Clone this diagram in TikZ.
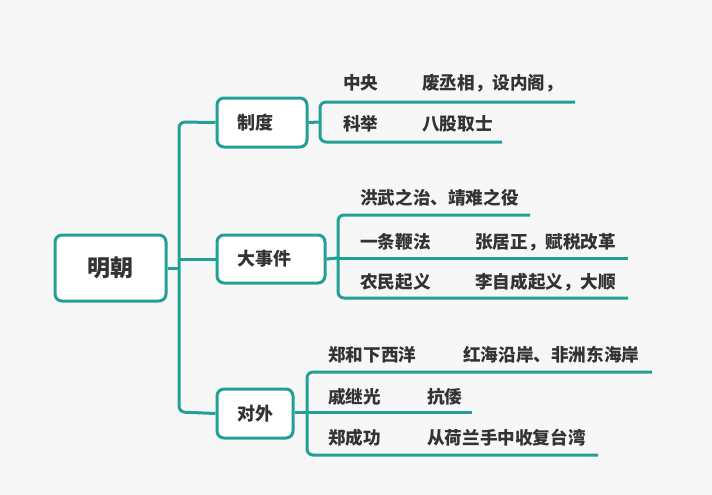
\documentclass[tikz,border=0pt]{standalone}
\usepackage{fontspec}
\setmainfont{Noto Sans CJK SC}
\definecolor{teal1}{HTML}{23A096}
\definecolor{bg}{HTML}{F7F7F7}
\definecolor{txt}{HTML}{333333}
\begin{document}
\begin{tikzpicture}[x=1pt,y=-1pt,
  line/.style={draw=teal1,line width=3pt,rounded corners=6pt},
  box/.style={draw=teal1,line width=3pt,fill=white,rounded corners=7pt,inner xsep=20pt,inner ysep=0pt,align=left,text=txt,font=\bfseries\fontsize{18}{18}\selectfont},
  item/.style={anchor=west,inner sep=0pt,text=txt,font=\bfseries\fontsize{17.6}{18}\selectfont}]
\fill[bg] (0,0) rectangle (712,495);
\useasboundingbox (0,0) rectangle (712,495);
% coordinates
\coordinate (tt) at (179,122);
\coordinate (tm) at (179,259);
\coordinate (tr) at (179,268);
\coordinate (tb) at (179,412);
% zhidu bracket
\coordinate (za) at (320,102); \coordinate (zb) at (320,142); \coordinate (zm) at (320,122);
\coordinate (zae) at (575,102); \coordinate (zbe) at (502,142);
% dashijian bracket
\coordinate (da) at (338,215); \coordinate (db) at (338,298); \coordinate (dm) at (338,258);
\coordinate (dae) at (530,215); \coordinate (dme) at (628,258); \coordinate (dbe) at (628,298);
% duiwai bracket
\coordinate (wa) at (307,372); \coordinate (wb) at (307,455); \coordinate (wm) at (307,412);
\coordinate (wae) at (652,372); \coordinate (wme) at (472,412); \coordinate (wbe) at (598,455);
% boxes
\node[box,minimum width=111pt,minimum height=66pt,inner xsep=0pt,align=center,font=\bfseries\fontsize{23}{23}\selectfont] (root) at (110.5,268) {明朝};
\node[box,text width=50pt,minimum height=49pt] (zhidu) at (262,122.5) {制度};
\node[box,text width=68pt,minimum height=48pt] (dsj) at (271,259) {大事件};
\node[box,text width=36pt,minimum height=49pt] (dw) at (255,413.5) {对外};
% lines
\begin{scope}[on background layer/.style={}]
\end{scope}
\draw[line] (zae) -- (za) -- (zb) -- (zbe);
\draw[line] (dae) -- (da) -- (db) -- (dbe);
\draw[line] (dm) -- (dme);
\draw[line] (wae) -- (wa) -- (wb) -- (wbe);
\draw[line] (wm) -- (wme);
\draw[line] (zhidu.west) -- (tt) -- (tb) -- (dw.west);
\draw[line] (tm) -- (dsj.west);
\draw[line] (root.east |- tr) -- (tr);
\draw[line] (zhidu.east) -- (zm);
\draw[line] (dsj.east) -- (dm);
\draw[line] (dw.east |- wm) -- (wm);
% items
\node[item] (i1) at (343,83) {中央};
\node[item] (i2) at (422,83) {废丞相，设内阁，};
\node[item] (i3) at (343,124) {科举};
\node[item] (i4) at (422,124) {八股取士};
\node[item] (i5) at (360,198) {洪武之治、靖难之役};
\node[item] (i6) at (360,242) {一条鞭法};
\node[item] (i7) at (475,242) {张居正，赋税改革};
\node[item] (i8) at (360,282) {农民起义};
\node[item] (i9) at (475,282) {李自成起义，大顺};
\node[item] (j1) at (328,355) {郑和下西洋};
\node[item] (j2) at (463,355) {红海沿岸、非洲东海岸};
\node[item] (j3) at (328,397) {戚继光};
\node[item] (j4) at (427,397) {抗倭};
\node[item] (j5) at (328,438) {郑成功};
\node[item] (j6) at (427,438) {从荷兰手中收复台湾};
\end{tikzpicture}
\end{document}
